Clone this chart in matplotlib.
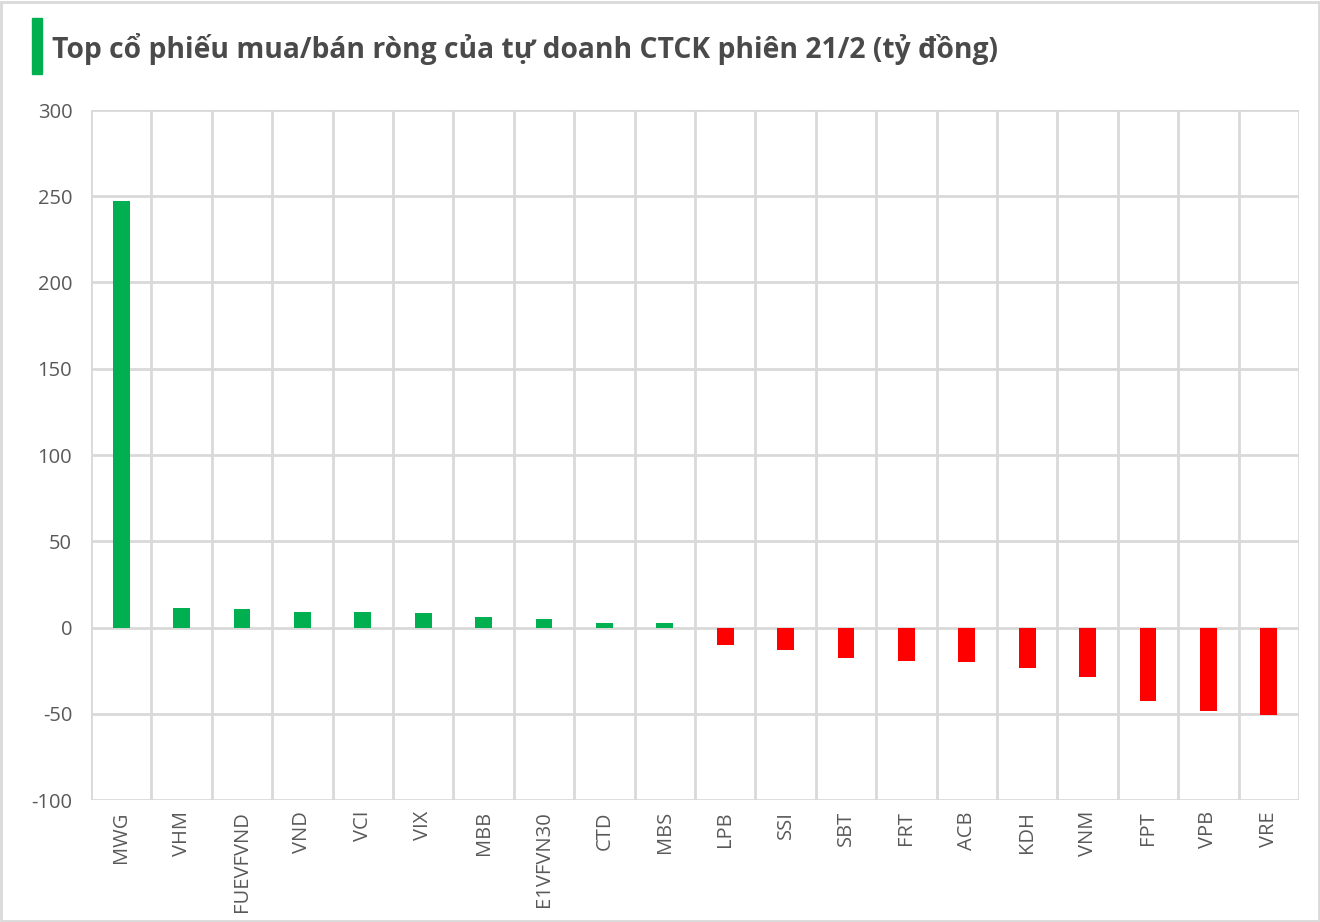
import matplotlib.pyplot as plt
from matplotlib.patches import Rectangle

tickers = ["MWG", "VHM", "FUEVFVND", "VND", "VCI", "VIX", "MBB", "E1VFVN30", "CTD", "MBS",
           "LPB", "SSI", "SBT", "FRT", "ACB", "KDH", "VNM", "FPT", "VPB", "VRE"]
values = [247.5, 11.3, 10.7, 9.0, 9.0, 8.4, 6.1, 4.9, 2.6, 2.6,
          -10.3, -13.2, -17.8, -19.6, -20.1, -23.6, -28.9, -42.8, -48.6, -51.0]
yticks = [-100, -50, 0, 50, 100, 150, 200, 250, 300]

GREEN = "#00B050"
RED = "#FF0000"
GRID = "#D9D9D9"
TEXT = "#595959"

plt.rcParams['font.family'] = ['Open Sans', 'DejaVu Sans']

fig = plt.figure(figsize=(13.2, 9.22), dpi=100)
ax = fig.add_axes([91 / 1320, 1 - 800 / 922, (1299 - 91) / 1320, (800 - 110) / 922])

colors = [GREEN if v >= 0 else RED for v in values]
x = list(range(len(tickers)))
ax.bar(x, values, width=0.28, color=colors, zorder=3)

ax.set_xlim(-0.5, len(tickers) - 0.5)
ax.set_ylim(-100, 300)
ax.set_yticks(yticks)
ax.set_yticklabels([str(t) for t in yticks], fontsize=14.5, color=TEXT)
ax.set_xticks(x)
ax.set_xticklabels(tickers, rotation=90, fontsize=14.5, color=TEXT)
ax.tick_params(axis='both', length=0)
ax.tick_params(axis='y', pad=13.5)
ax.tick_params(axis='x', pad=8)

# horizontal grid lines
ax.grid(axis='y', color=GRID, linewidth=2, zorder=0)
# vertical separators between categories
for b in range(len(tickers) + 1):
    ax.axvline(b - 0.5, color=GRID, linewidth=2, zorder=0)

for s in ax.spines.values():
    s.set_visible(False)

# title with green marker
fig.patches.append(Rectangle((32 / 1320, 1 - 74 / 922), 10 / 1320, 56 / 922,
                             transform=fig.transFigure, color=GREEN))
fig.text(52 / 1320, 1 - 49 / 922, "Top cổ phiếu mua/bán ròng của tự doanh CTCK phiên 21/2 (tỷ đồng)",
         fontsize=20.3, fontweight='bold', color="#4A4A4A", va='center', ha='left')

# outer frame
fig.patches.append(Rectangle((0.001, 0.001), 0.998, 0.997, transform=fig.transFigure,
                             fill=False, edgecolor=GRID, linewidth=2))

fig.savefig("out.png", dpi=100)
